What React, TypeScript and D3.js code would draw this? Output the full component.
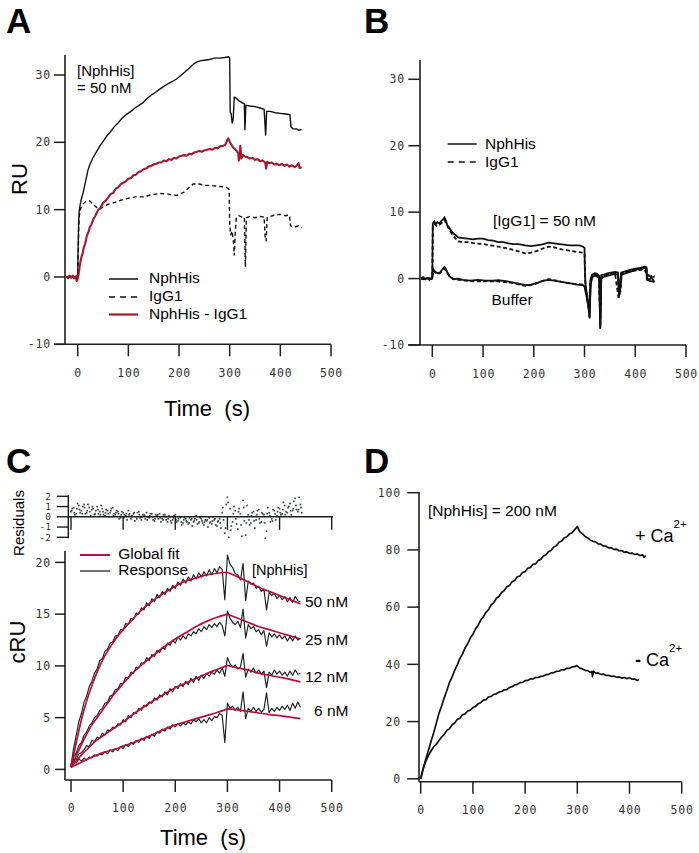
import React from "react";
import * as d3 from "d3";

type P = [number, number];

const SANS = "'Liberation Sans', Arial, Helvetica, sans-serif";
const MONO = "'DejaVu Sans Mono', monospace";

// ---------------- shared ticks ----------------
const timeTicks = [0, 100, 200, 300, 400, 500];
const ruTicks = [-10, 0, 10, 20, 30];
const cruTicks = [0, 5, 10, 15, 20];
const residTicks = [-2, -1, 0, 1, 2];
const dTicks = [0, 20, 40, 60, 80, 100];

// ---------------- Panel A ----------------
const aNphHis: P[] = [[-22,0],[-18,0.1],[-14,-0.1],[-10,0.1],[-6,0],[-2,0.1],[0,0.4],[1,5],[2,8.5],[3,9.8],[5,10.8],[8,11.8],[11,12.6],[15,14.0],[20,15.8],[24,16.7],[30,17.7],[37,18.6],[44,19.5],[50,20.1],[57,20.9],[64,21.5],[72,22.3],[80,22.9],[88,23.6],[97,24.2],[105,24.6],[113,25.1],[121,25.5],[129,25.9],[137,26.5],[145,27.0],[153,27.4],[162,27.9],[170,28.3],[178,28.7],[186,29.0],[195,29.4],[203,29.9],[211,30.4],[220,31.0],[228,31.6],[235,31.9],[241,32.1],[250,32.2],[260,32.3],[270,32.5],[280,32.5],[290,32.6],[298,32.7],[300,32.5],[301,24.5],[303,24.2],[305,22.8],[307,23.5],[309,26.7],[312,26.6],[318,26.2],[324,25.9],[329,25.7],[330,21.8],[332,25.5],[340,25.4],[350,25.3],[360,25.1],[368,24.9],[371,21.0],[373,24.6],[380,24.6],[390,24.4],[400,24.3],[410,24.2],[419,24.1],[421,22.3],[425,22.0],[432,22.0],[436,21.8],[442,21.9]];
const aIgG1: P[] = [[-22,0],[-12,0],[-2,0],[0,0.3],[1,3],[2,7],[3,9],[6,10.2],[10,10.8],[16,11.2],[24,11.3],[30,10.8],[38,10.3],[44,10.1],[52,10.5],[60,10.8],[70,11.0],[85,11.4],[100,11.7],[115,11.9],[129,11.9],[145,12.2],[162,12.4],[178,12.3],[195,12.1],[210,12.6],[220,13.3],[228,13.8],[240,13.8],[252,13.6],[261,13.6],[275,13.5],[285,13.4],[294,13.3],[299,13.0],[300,8.0],[302,6.2],[305,6.8],[308,4.8],[309,3.2],[311,6.5],[313,8.8],[318,9.1],[324,8.9],[329,8.9],[331,1.5],[333,8.8],[340,9.0],[350,8.8],[360,9.0],[368,8.9],[370,6.0],[372,5.3],[374,8.8],[380,9.0],[390,9.2],[400,9.3],[410,9.1],[418,9.2],[420,7.6],[428,7.4],[435,7.6],[442,7.3]];
const aDiff: P[] = [[-22,0.1],[-19,-0.2],[-16,0.2],[-13,-0.1],[-10,0.2],[-7,-0.2],[-4,0.1],[-2,-0.6],[0,-0.3],[2,0.5],[4,1.6],[6,2.5],[8,3.1],[10,3.6],[12,4.4],[15,5.0],[18,6.1],[21,6.6],[24,7.4],[27,7.8],[31,8.6],[35,9.1],[40,9.9],[45,10.3],[50,11.0],[55,11.3],[60,11.8],[65,12.3],[70,12.5],[75,13.1],[80,13.3],[85,13.8],[90,14.0],[95,14.2],[100,14.6],[105,14.7],[110,15.1],[115,15.2],[120,15.6],[125,15.7],[130,16.0],[135,16.1],[140,16.4],[145,16.5],[150,16.7],[155,16.8],[160,17.0],[165,17.0],[170,17.3],[175,17.2],[180,17.5],[185,17.4],[190,17.7],[195,17.6],[200,17.9],[205,18.0],[210,18.1],[215,18.0],[220,18.3],[225,18.2],[230,18.5],[235,18.6],[240,18.7],[245,18.6],[250,18.8],[255,18.9],[261,19.0],[266,18.9],[271,19.2],[276,19.1],[281,19.4],[287,19.5],[291,19.6],[294,20.1],[297,20.6],[300,20.1],[303,19.7],[306,19.3],[310,19.0],[314,18.7],[317,18.4],[318,17.3],[320,18.3],[321,19.5],[323,17.6],[326,18.1],[330,17.9],[335,17.8],[340,17.6],[345,17.7],[350,17.4],[355,17.5],[360,17.2],[365,17.3],[370,17.0],[372,16.1],[374,17.1],[378,16.9],[383,17.0],[388,16.7],[393,16.8],[398,16.6],[403,16.8],[408,16.5],[413,16.7],[418,16.4],[423,16.6],[428,16.3],[432,16.5],[436,16.9],[438,16.2],[442,16.3]];

// ---------------- Panel B ----------------
const bNphHis: P[] = [[-22,0],[-18,0.2],[-14,-0.1],[-10,0.1],[-6,-0.2],[-2,0],[0,0.2],[1,8.3],[4,8.6],[7,8.2],[10,8.5],[14,8.3],[18,8.7],[21,8.9],[24,9.2],[27,8.7],[30,8.0],[34,7.6],[38,7.1],[43,6.7],[48,6.4],[51,6.2],[60,6.1],[70,6.0],[80,5.9],[90,6.0],[100,6.0],[110,5.8],[120,5.7],[130,5.5],[140,5.5],[150,5.3],[160,5.2],[170,5.2],[183,5.0],[195,4.9],[205,5.0],[215,5.1],[229,5.4],[240,5.3],[250,5.2],[260,5.1],[270,5.0],[280,5.0],[290,5.0],[297,4.8],[300,4.6],[301,0.5],[302,-1.0],[304,-2.0],[306,-3.5],[308,-4.2],[310,-5.8],[312,0.0],[315,0.6],[320,0.8],[325,0.7],[329,0.4],[331,-7.4],[333,0.5],[338,0.6],[345,0.8],[352,0.9],[360,1.0],[366,0.9],[368,-2.6],[370,-1.5],[372,0.9],[380,1.1],[390,1.3],[400,1.5],[410,1.6],[418,1.8],[422,1.7],[423,0.2],[428,-0.3],[432,0.3],[436,-0.4],[438,-0.3]];
const bIgG1: P[] = [[-22,0],[-12,0],[-2,0],[0,0.2],[1,8.0],[5,8.2],[9,7.9],[14,8.1],[19,8.4],[24,8.8],[28,8.2],[33,7.4],[40,6.6],[46,6.0],[51,5.6],[60,5.5],[70,5.5],[85,5.3],[100,5.2],[115,5.0],[130,4.8],[145,4.6],[160,4.3],[170,4.1],[183,3.8],[195,3.9],[208,4.2],[220,4.6],[229,4.8],[240,4.7],[255,4.4],[270,4.2],[285,4.0],[297,3.9],[300,3.8],[301,0.0],[303,-1.5],[305,-2.8],[308,-3.8],[310,-5.2],[312,-0.3],[316,0.3],[322,0.5],[329,0.2],[331,-6.8],[333,0.2],[340,0.4],[350,0.6],[360,0.8],[366,0.7],[368,-2.8],[371,-1.8],[373,0.7],[380,0.9],[390,1.1],[400,1.3],[410,1.4],[418,1.5],[422,1.4],[423,0.5],[430,0.4],[438,0.2]];
const bBufferSolid: P[] = [[-22,0],[-16,-0.1],[-10,0.1],[-4,0],[0,0],[1,1.5],[4,1.2],[8,0.9],[12,0.8],[16,1.0],[20,1.4],[24,1.75],[27,1.4],[31,0.7],[36,0.2],[42,-0.1],[51,0.0],[60,-0.2],[75,-0.3],[90,-0.2],[105,-0.3],[120,-0.3],[130,-0.25],[145,-0.4],[160,-0.6],[172,-0.8],[183,-1.0],[195,-0.9],[208,-0.6],[220,-0.3],[229,-0.2],[240,-0.3],[255,-0.5],[270,-0.7],[285,-0.9],[297,-1.0],[300,-1.2],[302,-2.0],[305,-3.0],[308,-4.5],[310,-6.0],[312,-1.0],[315,0.2],[320,0.5],[329,0.1],[331,-7.6],[333,0.0],[340,0.3],[350,0.5],[360,0.7],[366,0.6],[368,-2.5],[371,-1.2],[373,0.5],[380,0.8],[390,1.0],[400,1.3],[410,1.5],[418,1.6],[422,1.5],[423,-0.2],[430,-0.4],[438,-0.5]];
const bBufferDashed: P[] = [[-22,0],[-12,0],[-2,0],[0,0],[1,1.2],[5,1.0],[10,0.7],[15,0.8],[20,1.2],[24,1.5],[28,1.1],[33,0.4],[40,0.0],[51,-0.2],[65,-0.3],[80,-0.4],[100,-0.4],[120,-0.4],[140,-0.5],[160,-0.7],[183,-1.1],[200,-0.9],[215,-0.4],[229,-0.1],[245,-0.3],[260,-0.6],[280,-0.8],[297,-0.9],[300,-1.0],[302,-1.6],[306,-3.2],[309,-5.0],[311,-0.8],[316,0.4],[322,0.6],[329,0.3],[331,-7.0],[333,0.1],[345,0.6],[360,0.8],[367,-2.9],[372,0.7],[385,1.0],[400,1.2],[418,1.4],[423,0.6],[430,0.3],[438,0.4]];

// ---------------- Panel C ----------------
const cFitTime = [0,10,20,30,40,50,60,70,80,90,100,120,140,160,180,200,220,240,260,280,300,320,340,360,380,400,420,440];
const cFit50 = [0.2,2.6,4.8,6.6,8.1,9.4,10.5,11.4,12.2,12.9,13.5,14.6,15.6,16.4,17.1,17.7,18.2,18.5,18.8,18.95,19.05,18.6,18.1,17.6,17.2,16.8,16.4,16.0];
const cFit25 = [0.2,1.3,2.4,3.4,4.3,5.0,5.7,6.4,7.1,7.7,8.3,9.4,10.3,11.1,11.9,12.6,13.2,13.8,14.3,14.7,15.0,14.6,14.2,13.8,13.5,13.2,12.9,12.6];
const cFit12 = [0.2,0.8,1.4,1.9,2.4,2.85,3.2,3.55,3.9,4.25,4.6,5.35,6.05,6.7,7.3,7.9,8.35,8.8,9.25,9.65,10.05,9.8,9.6,9.3,9.1,8.9,8.7,8.45];
const cFit6 = [0.2,0.45,0.7,0.95,1.2,1.4,1.6,1.75,1.9,2.05,2.25,2.6,3.0,3.45,3.9,4.3,4.6,4.9,5.2,5.5,5.85,5.75,5.6,5.45,5.3,5.2,5.05,4.9];

// response sampled every 5 s from 0 to 440 s
const cResp50 = [
  0.4,2.0,3.3,4.6,5.4,6.5,7.1,8.0,8.5,9.3,
  9.7,10.5,10.7,11.4,11.6,12.2,12.3,12.9,12.9,13.5,
  13.5,14.1,14.0,14.6,14.5,15.1,15.0,15.6,15.4,16.1,
  15.8,16.5,16.2,16.9,16.6,17.2,16.9,17.5,17.2,17.8,
  17.5,18.1,17.8,18.4,18.0,18.6,18.2,18.8,18.4,19.0,
  18.6,19.1,18.7,19.3,18.8,19.4,19.0,19.6,19.3,16.4,
  20.7,19.8,19.5,18.9,18.8,18.3,19.9,16.3,18.2,17.9,
  18.0,17.5,17.7,17.2,17.4,15.4,17.1,16.8,17.0,16.5,
  16.8,16.4,16.7,16.2,16.6,16.1,16.7,16.3,16.2];
const cResp25 = [
  0.3,1.2,1.6,2.3,2.6,3.3,3.6,4.2,4.5,5.0,
  5.2,5.7,5.9,6.4,6.5,7.1,7.2,7.7,7.8,8.3,
  8.3,8.9,8.8,9.4,9.3,9.9,9.8,10.3,10.2,10.8,
  10.5,11.1,10.9,11.5,11.3,11.8,11.6,12.2,12.0,12.5,
  12.2,12.8,12.5,12.9,12.6,13.1,12.9,13.3,13.1,13.6,
  13.3,13.8,13.5,14.0,13.7,14.1,13.8,14.2,13.9,12.9,
  15.3,14.6,14.2,14.0,14.3,13.7,15.5,12.7,14.0,13.6,
  13.8,13.3,13.5,13.0,13.4,11.9,13.2,12.8,13.1,12.7,
  13.0,12.6,12.9,12.4,12.8,12.4,12.9,12.5,12.7];
const cResp12 = [
  0.5,1.0,0.9,1.5,1.6,1.9,2.3,2.2,2.8,2.7,
  3.1,3.0,3.5,3.3,3.8,3.7,4.1,4.0,4.4,4.3,
  4.8,4.6,5.2,5.0,5.5,5.4,5.9,5.7,6.2,6.1,
  6.5,6.4,6.9,6.7,7.2,7.0,7.5,7.2,7.8,7.5,
  8.0,7.8,8.3,8.0,8.5,8.2,8.8,8.4,9.0,8.6,
  9.1,8.8,9.3,9.0,9.4,9.2,9.6,9.3,9.8,9.0,
  10.8,10.2,9.9,10.1,9.7,9.9,11.2,8.9,9.7,9.4,
  9.8,9.3,9.6,9.2,9.5,7.9,9.4,9.1,9.6,9.2,
  9.5,9.1,9.4,9.0,9.5,9.1,9.6,9.2,9.3];
const cResp6 = [
  0.4,0.9,0.6,1.0,0.8,1.1,0.9,1.2,1.1,1.4,
  1.3,1.5,1.4,1.7,1.5,1.9,1.7,2.0,1.8,2.2,
  2.0,2.4,2.2,2.6,2.4,2.8,2.6,3.0,2.8,3.2,
  3.0,3.4,3.2,3.6,3.5,3.9,3.7,4.1,3.9,4.3,
  4.1,4.4,4.2,4.5,4.3,4.6,4.4,4.8,4.6,4.9,
  4.5,4.8,4.5,5.0,4.7,5.1,5.0,5.4,5.2,2.6,
  6.4,5.9,6.1,5.7,6.0,5.6,7.5,4.9,5.9,5.6,
  6.0,5.6,5.9,5.5,5.8,7.4,5.5,5.9,5.6,6.0,
  5.7,6.1,5.8,6.2,5.7,6.4,5.9,6.5,6.0];
const cConcLabels = ["50 nM", "25 nM", "12 nM", "6 nM"];

// residuals, three interleaved samplings (every 5 s, offsets 0, 2.5, 1.25 s)
const residOffsets = [0, 2.5, 1.25];
const residA = [
  0.5,0.9,0.3,1.1,0.6,1.2,0.4,0.9,0.7,0.2,
  1.0,0.5,0.8,0.1,0.6,0.4,0.9,0.2,0.5,-0.1,
  0.4,0.1,0.6,-0.2,0.3,0.0,0.5,-0.3,0.2,0.4,
  -0.1,0.3,-0.4,0.1,0.3,-0.2,0.2,-0.5,0.0,-0.3,
  0.2,-0.4,-0.1,-0.6,-0.2,-0.7,-0.3,-0.5,0.1,-0.6,
  -0.2,-0.8,-0.4,-0.1,-0.7,-0.3,-0.9,-0.2,0.4,-1.6,
  1.9,0.8,-0.5,0.6,-1.2,0.3,1.6,-1.8,0.2,-0.6,
  0.5,-0.3,0.7,-0.5,0.2,-1.4,0.4,-0.2,0.6,0.1,
  0.8,0.3,1.1,0.4,1.3,0.6,1.8,0.5,1.2];
const residB = [
  0.8,0.2,1.3,0.4,1.0,0.3,1.2,0.1,0.8,0.6,
  0.3,1.1,0.2,0.7,0.0,0.8,0.3,0.6,-0.2,0.5,
  0.2,-0.3,0.3,0.1,-0.4,0.4,-0.1,0.2,-0.2,0.0,
  0.3,-0.3,0.2,-0.2,-0.5,0.2,-0.3,0.1,-0.6,0.1,
  -0.5,0.0,-0.8,-0.1,-0.5,-0.1,-0.9,-0.2,-0.7,-0.1,
  -0.6,-0.3,-1.0,-0.5,0.0,-0.8,-0.4,-1.1,-0.3,1.2,
  -2.0,-0.9,1.0,-0.7,0.8,-1.9,-0.4,1.1,-0.8,0.4,
  -1.1,0.6,-0.6,0.3,-2.1,0.9,-0.5,0.7,-0.3,0.9,
  0.2,1.4,0.5,1.0,0.2,1.5,0.7,1.9,0.4];
const residC = [
  0.6,0.4,0.8,0.7,0.3,0.9,0.6,0.5,1.0,0.3,
  0.7,0.2,0.5,0.4,0.3,0.6,0.1,0.4,0.3,0.2,
  -0.1,0.3,0.2,0.1,0.4,-0.2,0.2,0.0,0.1,-0.3,
  0.1,0.0,-0.2,0.2,-0.1,-0.3,0.0,-0.2,-0.4,-0.1,
  -0.3,-0.2,-0.5,-0.3,-0.4,-0.6,-0.2,-0.4,-0.3,-0.5,
  -0.4,-0.5,-0.3,-0.6,-0.4,-0.2,-0.5,-0.6,0.9,-1.1,
  1.4,-1.3,0.3,-0.2,0.5,-0.8,0.9,-0.6,-0.3,0.1,
  -0.4,0.2,-0.2,0.4,-0.6,0.3,0.1,-0.4,0.3,0.5,
  0.4,0.7,0.2,0.9,0.6,0.8,1.1,0.7,0.9];

// ---------------- Panel D ----------------
const dPlusCa: P[] = [[0,0],[2,1.5],[5,3.8],[10,7.0],[15,10.1],[20,13.2],[25,16.2],[30,19.5],[35,22.9],[40,25.4],[45,28.3],[50,30.8],[55,33.6],[60,35.5],[65,37.9],[70,39.8],[75,42.0],[80,43.6],[85,45.8],[90,47.2],[95,49.2],[100,50.5],[105,52.4],[110,53.6],[115,55.5],[120,56.6],[125,58.2],[130,59.1],[135,60.8],[140,61.6],[145,63.1],[150,63.7],[155,65.1],[160,65.8],[165,67.1],[170,67.6],[175,68.9],[180,69.3],[185,70.6],[190,70.9],[195,72.1],[200,72.4],[205,73.6],[210,73.8],[215,75.0],[220,75.1],[225,76.3],[230,76.7],[235,77.9],[240,78.3],[245,79.4],[250,79.9],[255,81.0],[260,81.5],[265,82.7],[270,83.1],[275,84.2],[280,84.6],[285,85.6],[290,86.0],[295,87.1],[299,87.9],[300,88.2],[302,87.4],[305,86.3],[310,85.6],[315,84.7],[320,84.2],[325,83.4],[330,83.0],[335,82.8],[340,82.1],[345,82.0],[350,81.4],[355,81.3],[360,80.7],[365,80.8],[370,80.2],[375,80.3],[380,79.7],[385,79.8],[390,79.2],[395,79.3],[400,78.8],[405,78.9],[410,78.4],[415,78.6],[420,78.0],[425,78.3],[428,77.4],[431,78.0]];
const dMinusCa: P[] = [[0,0],[2,1.5],[5,3.6],[10,6.2],[15,8.2],[20,9.8],[25,11.2],[30,12.1],[35,13.4],[40,14.6],[45,15.5],[50,16.9],[55,17.5],[60,18.8],[65,19.5],[70,20.7],[75,21.2],[80,22.4],[85,22.7],[90,23.7],[95,24.0],[100,24.9],[105,25.3],[110,26.2],[115,26.6],[120,27.5],[125,27.7],[130,28.6],[135,28.8],[140,29.5],[145,29.7],[150,30.3],[155,30.5],[160,31.1],[165,31.2],[170,31.9],[175,32.2],[180,32.8],[185,33.0],[190,33.6],[195,33.7],[200,34.3],[205,34.4],[210,34.9],[215,34.9],[220,35.4],[225,35.4],[230,35.8],[235,35.9],[240,36.4],[245,36.5],[250,37.0],[255,37.1],[260,37.6],[265,37.6],[270,38.1],[275,38.1],[280,38.6],[285,38.6],[290,39.1],[295,39.2],[299,39.6],[302,39.1],[305,38.7],[310,38.4],[315,37.9],[320,37.8],[325,37.2],[328,37.5],[329,35.7],[331,37.6],[335,36.9],[340,37.0],[345,36.5],[350,36.6],[355,36.1],[360,36.2],[365,35.8],[370,35.9],[375,35.5],[380,35.6],[385,35.2],[390,35.4],[395,35.0],[400,35.3],[405,34.8],[410,34.9],[415,34.4],[418,34.7]];

// ---------------- helpers ----------------
function pathOf(data: P[], x: any, y: any, curve: any = d3.curveLinear) {
  return d3.line<P>().x((d) => x(d[0])).y((d) => y(d[1])).curve(curve)(data) || "";
}

function Axes(props: any) {
  const { x, y, yAxisX, yTop, yBottom, yTickLeft, yLabelX, yTicks, xAxisY, xLeft, xRight, xTickLen, xLabelY, xTicks, stroke = "#1e1e1e" } = props;
  return (
    <g>
      <line x1={yAxisX} x2={yAxisX} y1={yTop} y2={yBottom} stroke={stroke} strokeWidth={1.6} />
      {yTicks.map((v: number) => (
        <line key={"yt" + v} x1={yTickLeft} x2={yAxisX} y1={y(v)} y2={y(v)} stroke={stroke} strokeWidth={1.5} />
      ))}
      {yTicks.map((v: number) => (
        <text key={"yl" + v} x={yLabelX} y={y(v)} dy="0.36em" textAnchor="end" fontFamily={MONO} fontSize={11.5} letterSpacing={0.8} fill="#333">{v}</text>
      ))}
      <line x1={xLeft} x2={xRight} y1={xAxisY} y2={xAxisY} stroke={stroke} strokeWidth={1.6} />
      {xTicks.map((t: number) => (
        <line key={"xt" + t} x1={x(t)} x2={x(t)} y1={xAxisY} y2={xAxisY + xTickLen} stroke={stroke} strokeWidth={1.5} />
      ))}
      {xTicks.map((t: number) => (
        <text key={"xl" + t} x={x(t) + 0.5} y={xLabelY} textAnchor="middle" fontFamily={MONO} fontSize={11.5} letterSpacing={0.8} fill="#333">{t}</text>
      ))}
    </g>
  );
}

export default function App() {
  // Panel A
  const xA = d3.scaleLinear().domain([0, 500]).range([77.7, 331]);
  const yA = d3.scaleLinear().domain([-10, 30]).range([344.3, 75]);
  // Panel B
  const xB = d3.scaleLinear().domain([0, 500]).range([432.3, 686]);
  const yB = d3.scaleLinear().domain([-10, 30]).range([345, 79.3]);
  // Panel C
  const xC = d3.scaleLinear().domain([0, 500]).range([71, 331.7]);
  const yC = d3.scaleLinear().domain([0, 20]).range([769.4, 562.4]);
  const yR = d3.scaleLinear().domain([-2, 2]).range([537.3, 496.3]);
  // Panel D
  const xD = d3.scaleLinear().domain([0, 500]).range([420.7, 681.7]);
  const yD = d3.scaleLinear().domain([0, 100]).range([778.8, 492.7]);

  const cTime = d3.range(0, 441, 5);
  const fits = [cFit50, cFit25, cFit12, cFit6];
  const resps = [cResp50, cResp25, cResp12, cResp6];
  const labelY = [16.2, 12.6, 9.0, 5.7];
  const residSets = [residA, residB, residC];

  const fitPaths = fits.map((vals) => {
    const pts: P[] = cFitTime.map((t, i) => [t, vals[i]] as P);
    const assoc = pts.filter((p) => p[0] <= 300);
    const dissoc = pts.filter((p) => p[0] >= 300);
    return pathOf(assoc, xC, yC, d3.curveMonotoneX) + pathOf(dissoc, xC, yC, d3.curveMonotoneX);
  });
  const respPaths = resps.map((vals) => pathOf(cTime.map((t, i) => [t, vals[i]] as P), xC, yC));

  const red = "#a3172f";
  const fitRed = "#b5103c";

  return (
    <div style={{ position: "absolute", left: 0, top: 0 }}>
      <svg width={699} height={853} fontFamily={SANS} style={{ display: "block", background: "#fff" }}>
        <rect x={0} y={0} width={699} height={853} fill="#fff" />

        {/* ================= A ================= */}
        <text x={6} y={33} fontSize={35} fontWeight="bold">A</text>
        <Axes x={xA} y={yA} yAxisX={65} yTop={55} yBottom={344.3} yTickLeft={54} yLabelX={51} yTicks={ruTicks}
          xAxisY={344.3} xLeft={54} xRight={331} xTickLen={12} xLabelY={377} xTicks={timeTicks} />
        <path d={pathOf(aIgG1, xA, yA)} fill="none" stroke="#111" strokeWidth={1.4} strokeDasharray="4,3" />
        <path d={pathOf(aNphHis, xA, yA)} fill="none" stroke="#111" strokeWidth={1.4} />
        <path d={pathOf(aDiff, xA, yA)} fill="none" stroke={red} strokeWidth={2.1} strokeLinejoin="round" />
        <text x={77} y={76} fontSize={15}>[NphHis]</text>
        <text x={77} y={93} fontSize={15}>= 50 nM</text>
        <line x1={109} x2={138} y1={279} y2={279} stroke="#111" strokeWidth={1.5} />
        <line x1={109} x2={138} y1={297} y2={297} stroke="#111" strokeWidth={1.5} strokeDasharray="6,5" />
        <line x1={109} x2={138} y1={314.5} y2={314.5} stroke={red} strokeWidth={2.2} />
        <text x={149} y={283} fontSize={15.5}>NphHis</text>
        <text x={149} y={301} fontSize={15.5}>IgG1</text>
        <text x={149} y={319} fontSize={15.5}>NphHis - IgG1</text>
        <text x={207} y={416} fontSize={22} textAnchor="middle" style={{ whiteSpace: "pre" }}>{"Time  (s)"}</text>
        <text transform="translate(27,179) rotate(-90)" fontSize={22} textAnchor="middle">RU</text>

        {/* ================= B ================= */}
        <text x={364} y={33} fontSize={35} fontWeight="bold">B</text>
        <Axes x={xB} y={yB} yAxisX={420} yTop={60} yBottom={345} yTickLeft={408.3} yLabelX={405} yTicks={ruTicks}
          xAxisY={345} xLeft={408} xRight={686} xTickLen={12} xLabelY={377.5} xTicks={timeTicks} />
        <path d={pathOf(bBufferDashed, xB, yB)} fill="none" stroke="#111" strokeWidth={1.8} strokeDasharray="4,2.5" />
        <path d={pathOf(bBufferSolid, xB, yB)} fill="none" stroke="#111" strokeWidth={1.8} />
        <path d={pathOf(bIgG1, xB, yB)} fill="none" stroke="#111" strokeWidth={1.8} strokeDasharray="4,2.5" />
        <path d={pathOf(bNphHis, xB, yB)} fill="none" stroke="#111" strokeWidth={1.8} />
        <line x1={447.7} x2={476.7} y1={144} y2={144} stroke="#111" strokeWidth={1.5} />
        <line x1={447.7} x2={476.7} y1={162} y2={162} stroke="#111" strokeWidth={1.5} strokeDasharray="6,5" />
        <text x={485} y={148.5} fontSize={15.5}>NphHis</text>
        <text x={485} y={166.5} fontSize={15.5}>IgG1</text>
        <text x={493} y={226} fontSize={15.5}>[IgG1] = 50 nM</text>
        <text x={491.5} y={305} fontSize={15.5}>Buffer</text>

        {/* ================= C ================= */}
        <text x={6} y={473} fontSize={35} fontWeight="bold">C</text>
        {/* residuals */}
        <line x1={68.3} x2={68.3} y1={495} y2={538.3} stroke="#1e1e1e" strokeWidth={1.5} />
        {residTicks.map((v) => (
          <line key={"rt" + v} x1={57} x2={68.3} y1={yR(v)} y2={yR(v)} stroke="#1e1e1e" strokeWidth={1.4} />
        ))}
        {residTicks.map((v) => (
          <text key={"rl" + v} x={51} y={yR(v)} dy="0.36em" textAnchor="end" fontFamily={MONO} fontSize={9.5} fill="#333">{v}</text>
        ))}
        {residSets.map((set, k) =>
          set.map((v, i) => (
            <rect key={"rd" + k + "_" + i} x={xC(cTime[i] + residOffsets[k]) - 0.85} y={yR(v) - 0.85} width={1.7} height={1.7} fill="#3c4a41" />
          ))
        )}
        <line x1={68.3} x2={333} y1={yR(0)} y2={yR(0)} stroke="#1e1e1e" strokeWidth={1.5} />
        {timeTicks.map((t) => (
          <line key={"rxt" + t} x1={xC(t)} x2={xC(t)} y1={yR(0)} y2={yR(0) + 13} stroke="#1e1e1e" strokeWidth={1.4} />
        ))}
        <text transform="translate(24,523) rotate(-90)" fontSize={15} textAnchor="middle">Residuals</text>

        <Axes x={xC} y={yC} yAxisX={65} yTop={551} yBottom={780} yTickLeft={55} yLabelX={51} yTicks={cruTicks}
          xAxisY={780} xLeft={65} xRight={331.7} xTickLen={12} xLabelY={812} xTicks={timeTicks} />
        {respPaths.map((d, i) => (
          <path key={"rp" + i} d={d} fill="none" stroke="#17201b" strokeWidth={1.15} strokeLinejoin="round" />
        ))}
        {fitPaths.map((d, i) => (
          <path key={"fp" + i} d={d} fill="none" stroke={fitRed} strokeWidth={1.7} />
        ))}
        {cConcLabels.map((s, i) => (
          <text key={"cl" + i} x={s.length === 4 ? 314 : 305} y={yC(labelY[i])} dy="0.36em" fontSize={15.5}>{s}</text>
        ))}
        <line x1={80} x2={110} y1={555} y2={555} stroke={fitRed} strokeWidth={2} />
        <line x1={80} x2={110} y1={571} y2={571} stroke="#46544b" strokeWidth={1.6} />
        <text x={118.3} y={558.5} fontSize={15.5}>Global fit</text>
        <text x={118.3} y={574.5} fontSize={15.5}>Response</text>
        <text x={252} y={574.5} fontSize={14.5}>[NphHis]</text>
        <text x={203} y={845} fontSize={22} textAnchor="middle" style={{ whiteSpace: "pre" }}>{"Time  (s)"}</text>
        <text transform="translate(25,642) rotate(-90)" fontSize={22} textAnchor="middle">cRU</text>

        {/* ================= D ================= */}
        <text x={364} y={473} fontSize={35} fontWeight="bold">D</text>
        <Axes x={xD} y={yD} yAxisX={419} yTop={492} yBottom={781.7} yTickLeft={407.3} yLabelX={401} yTicks={dTicks}
          xAxisY={781.7} xLeft={419} xRight={681.7} xTickLen={12} xLabelY={814} xTicks={timeTicks} />
        <path d={pathOf(dPlusCa, xD, yD)} fill="none" stroke="#111" strokeWidth={1.7} strokeLinejoin="round" />
        <path d={pathOf(dMinusCa, xD, yD)} fill="none" stroke="#111" strokeWidth={1.7} strokeLinejoin="round" />
        <text x={428} y={516} fontSize={15.5}>[NphHis] = 200 nM</text>
        <text x={635} y={542} fontSize={18}>+ Ca<tspan dy={-14} fontSize={11.5}>2+</tspan></text>
        <text x={635} y={666} fontSize={18}><tspan fontWeight="bold">-</tspan> Ca<tspan dy={-14} fontSize={11.5}>2+</tspan></text>
      </svg>
    </div>
  );
}
